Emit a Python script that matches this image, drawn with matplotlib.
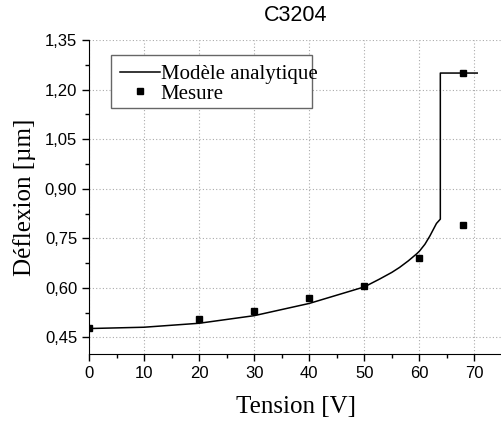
import numpy as np
import matplotlib
matplotlib.use('Agg')
import matplotlib.pyplot as plt
from matplotlib.ticker import MultipleLocator, FuncFormatter
from matplotlib.patches import Rectangle

## Model curve
model_v = [0, 10, 20, 30, 40, 45, 50, 52.8, 55, 56.4, 58, 59.5, 60, 61, 61.9,
           63.1, 63.8, 63.8, 70.5]
model_d = [0.477, 0.481, 0.493, 0.516, 0.553, 0.578, 0.603, 0.627, 0.647,
           0.662, 0.682, 0.703, 0.711, 0.732, 0.757, 0.795, 0.808, 1.25, 1.25]

## Measured points
mes_v = [0, 20, 30, 40, 50, 60, 68, 68]
mes_d = [0.480, 0.505, 0.531, 0.570, 0.605, 0.689, 0.789, 1.25]

fig = plt.figure(figsize=(5.01, 4.21), dpi=100)
ax = fig.add_axes([89/501, 67/421, 413/501, 314/421])

ax.plot(model_v, model_d, color='black', lw=1.1, label='Modèle analytique', zorder=3)
ax.plot(mes_v, mes_d, ls='none', marker='s', ms=5, color='black', label='Mesure', zorder=4)

ax.set_xlim(0, 75)
ax.set_ylim(0.40, 1.35)
ax.xaxis.set_major_locator(MultipleLocator(10))
ax.xaxis.set_minor_locator(MultipleLocator(5))
ax.set_yticks(np.arange(0.45, 1.36, 0.15))
ax.yaxis.set_minor_locator(MultipleLocator(0.075))
ax.yaxis.set_major_formatter(FuncFormatter(lambda v, p: ('%.2f' % v).replace('.', ',')))

for s in ['top', 'right']:
    ax.spines[s].set_visible(False)
ax.tick_params(which='major', direction='out', length=5, width=1, labelsize=12)
ax.tick_params(which='minor', direction='out', length=3, width=1)
for lab in ax.get_xticklabels() + ax.get_yticklabels():
    lab.set_family('Liberation Sans')

ax.grid(True, which='major', ls=(0, (1, 2)), color='#aaaaaa', lw=0.8)

ax.set_xlabel('Tension [V]', family='Liberation Serif', fontsize=18, labelpad=11)
ax.set_ylabel('Déflexion [µm]', family='Liberation Serif', fontsize=18, labelpad=6)
ax.set_title('C3204', family='Liberation Sans', fontsize=15.5, pad=14)

# legend box (text runs a bit past the frame, as in the original)
ax.add_patch(Rectangle((0.0533, 0.783), 0.486, 0.169, transform=ax.transAxes,
                       facecolor='white', edgecolor='#666666', lw=1, zorder=4.5))
leg = ax.legend(loc='upper left', bbox_to_anchor=(0.075, 0.922), borderaxespad=0,
                prop={'family': 'Liberation Serif', 'size': 15}, frameon=False,
                handlelength=1.9, handletextpad=0.05, borderpad=0, labelspacing=0.0)
leg.set_zorder(5)

fig.savefig('out.png', dpi=100)
